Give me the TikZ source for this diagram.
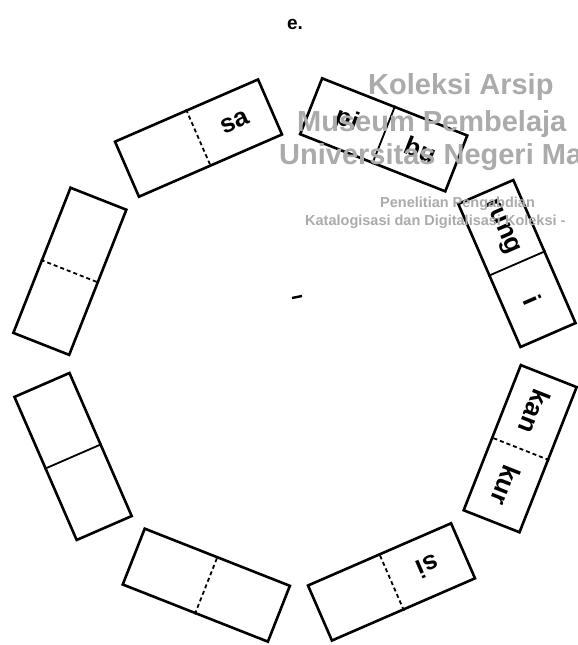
\documentclass[tikz,border=0pt]{standalone}
\usepackage{fontspec}
\setsansfont{Liberation Sans}
\usetikzlibrary{calc}
\definecolor{wmgray}{gray}{0.67}

\begin{document}
\begin{tikzpicture}[x=1pt,y=1pt,
  domino/.style={draw,line width=2.6pt,minimum width=156pt,minimum height=60pt,inner sep=0pt},
  cutsolid/.style={line width=1.8pt},
  cutdash/.style={line width=1.8pt,dash pattern=on 4pt off 3pt},
  syl/.style={font=\sffamily\bfseries\fontsize{26}{28}\selectfont,inner sep=0pt},
  wm/.style={text=wmgray,font=\sffamily\bfseries\fontsize{#1}{#1}\selectfont,anchor=base west,inner sep=0pt}]
\path[use as bounding box,fill=white] (0,0) rectangle (578,645);
\clip (0,0) rectangle (578,645);
\coordinate (ring) at (295,285);
\node[font=\sffamily\bfseries\fontsize{19}{19}\selectfont,anchor=base] (title) at (295,615) {e.};
\foreach \ang/\lt/\rt/\cut [count=\k] in {113.5/{}/sa/cutdash, 68.5/pi/bu/cutsolid, 23.5/rung/i/cutsolid,
    -21.5/kan/kur/cutdash, -66.5/si/{}/cutdash, -111.5/{}/{}/cutdash, -156.5/{}/{}/cutsolid, 158.5/{}/{}/cutdash}{
  \node[domino,rotate=\ang-90] (d\k) at ($(ring)+(\ang:242)$) {};
  \draw[\cut] (d\k.north) -- (d\k.south);
  \node[syl,rotate=\ang-90] (d\k l) at ($(d\k.center)!.5!(d\k.west)$) {\lt};
  \node[syl,rotate=\ang-90] (d\k r) at ($(d\k.center)!.5!(d\k.east)$) {\rt};
}
\coordinate (mark) at (297,348);
\draw[line width=2.4pt] ($(mark)+(-5,-1)$) -- ($(mark)+(5,1)$);
\node[wm=29] (wm1) at (368,550) {Koleksi Arsip};
\node[wm=29] (wm2) at (297,513) {Museum Pembelaja};
\node[wm=29] (wm3) at (279,480) {Universitas Negeri Ma};
\node[wm=14.5] (wm4) at (380,437) {Penelitian Pengabdian};
\node[wm=14.5] (wm5) at (305,419) {Katalogisasi dan Digitalisasi Koleksi -};
\end{tikzpicture}
\end{document}
